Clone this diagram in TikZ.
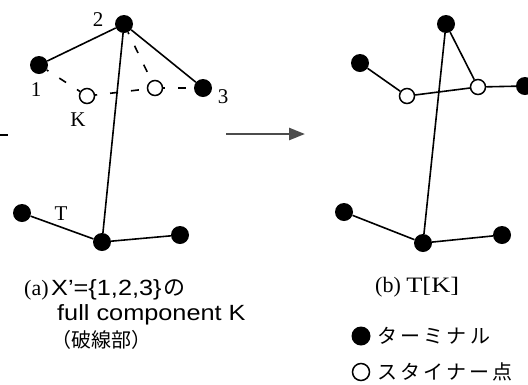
\documentclass[tikz,border=0pt]{standalone}
\usepackage{fontspec}
\usepackage{graphicx}
\setmainfont{Liberation Serif}
\setsansfont{Liberation Sans}
\newfontfamily\jpfont{Noto Sans CJK JP}
\usetikzlibrary{arrows.meta}
% horizontally widened text
\newcommand\widertext[2][1.15]{\scalebox{#1}[1]{#2}}

\begin{document}
\begin{tikzpicture}[x=1pt,y=-1pt,
  terminal/.style={circle,fill=black,inner sep=0pt,minimum size=18pt},
  steiner/.style={circle,draw=black,fill=white,line width=1.5pt,inner sep=0pt,minimum size=15pt},
  edge/.style={line width=1.6pt},
  kedge/.style={line width=1.6pt,dash pattern=on 8pt off 13pt,dash phase=6pt},
  lbl/.style={font=\fontsize{21}{21}\selectfont,inner sep=0pt},
  captext/.style={anchor=base west,inner sep=0pt},
  jp/.style={font=\jpfont\fontsize{20}{20}\selectfont\addfontfeature{LetterSpace=16},inner sep=0pt,anchor=west}]
\useasboundingbox (0,0) rectangle (528,384);

% ---------- (a) full component K ----------
\node[terminal] (a1) at (39,65) {};
\node[terminal] (a2) at (124,24) {};
\node[terminal] (a3) at (203,88) {};
\node[steiner] (k1) at (87,96) {};
\node[steiner] (k2) at (155,88) {};
\node[terminal] (aL) at (22,213) {};
\node[terminal] (aC) at (102,242) {};
\node[terminal] (aR) at (180,235) {};

\draw[edge] (a1) -- (a2);
\draw[edge] (a2) -- (a3);
\draw[edge] (a2) -- (aC);
\draw[edge] (aL) -- (aC);
\draw[edge] (aC) -- (aR);
\draw[kedge] (a1) -- (k1);
\draw[kedge] (k1) -- (k2);
\draw[kedge] (k2) -- (a3);
\draw[kedge] (a2) -- (k2);

\node[lbl] (n1) at (36,90) {1};
\node[lbl] (n2) at (98,20) {2};
\node[lbl] (n3) at (223,97) {3};
\node[lbl] (nK) at (78,120) {K};
\node[lbl] (nT) at (61,214) {T};

% stray mark at the left edge
\coordinate (m0) at (0,135);
\coordinate (m1) at (8,135);
\draw[line width=1.5pt] (m0) -- (m1);

% ---------- arrow ----------
\coordinate (arrS) at (226,134);
\coordinate (arrE) at (305,134);
\draw[line width=2.6pt,black!70,-{Triangle[length=16pt,width=12pt]}] (arrS) -- (arrE);

% ---------- (b) T[K] ----------
\node[terminal] (b1) at (360,63) {};
\node[terminal] (b2) at (446,24) {};
\node[terminal] (b3) at (525,86) {};
\node[steiner] (s1) at (407,96) {};
\node[steiner] (s2) at (478,87) {};
\node[terminal] (bL) at (344,212) {};
\node[terminal] (bC) at (423,243) {};
\node[terminal] (bR) at (502,235) {};

\draw[edge] (b1) -- (s1);
\draw[edge] (s1) -- (s2);
\draw[edge] (s2) -- (b3);
\draw[edge] (s2) -- (b2);
\draw[edge] (b2) -- (bC);
\draw[edge] (bL) -- (bC);
\draw[edge] (bC) -- (bR);

% ---------- captions ----------
\node[captext] (capa) at (24,295) {\fontsize{22}{22}\selectfont (a)};
\node[captext] (capa1) at (51,295) {\sffamily\fontsize{22}{22}\selectfont\widertext{X'=\{1,2,3\}}};
\node[captext] (capa2) at ([xshift=1pt]capa1.base east) {\jpfont\fontsize{22}{22}\selectfont の};
\node[captext] (capa3) at (57,320) {\sffamily\fontsize{22}{22}\selectfont\widertext{full component K}};
\node[captext] (capa4) at (51,347) {\jpfont\fontsize{20}{20}\selectfont （破線部）};

\node[captext] (capb) at (375,292) {\fontsize{22}{22}\selectfont (b)~\widertext[1.2]{T[K]}};

% ---------- legend ----------
\node[terminal,minimum size=19pt] (legT) at (361,336) {};
\node[jp] (legTt) at (377,336) {ターミナル};
\node[steiner,minimum size=17pt] (legS) at (361,372) {};
\node[jp] (legSt) at (377,372) {スタイナー点};
\end{tikzpicture}
\end{document}
